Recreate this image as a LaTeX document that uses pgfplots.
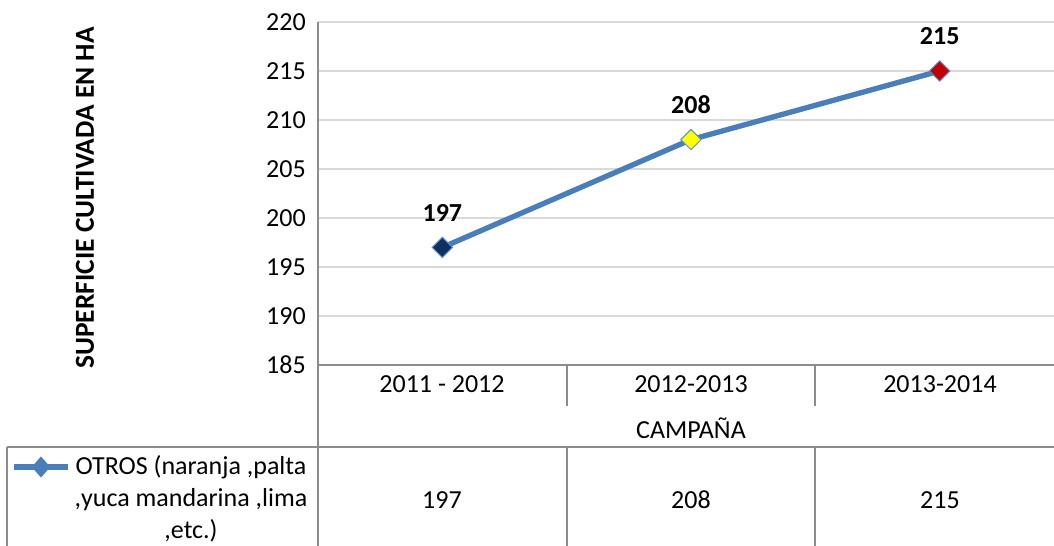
\documentclass[border=0pt]{standalone}
\usepackage{pgfplots}
\pgfplotsset{compat=1.18}
\usepackage{fontspec}
\setmainfont{Carlito}
\usetikzlibrary{shapes.geometric}
\definecolor{gridgray}{HTML}{D9D9D9}
\definecolor{axisgray}{HTML}{8C8C8C}
\definecolor{lineblue}{HTML}{4A7EBB}
\definecolor{edgeblue}{HTML}{5B8FD0}
\definecolor{navy}{HTML}{10305F}
\definecolor{yel}{HTML}{FFFF00}
\definecolor{redm}{HTML}{C00000}
\newcommand\fs{\fontsize{19.5}{24}\selectfont}
\pgfplotsset{/pgf/number format/assume math mode=true}
\begin{document}
\begin{tikzpicture}[x=0.75pt,y=-0.75pt]
\useasboundingbox (0,0) rectangle (1054,546);
\begin{scope}
\clip (0,0) rectangle (1054,546);
\begin{axis}[at={(238.5pt,-273.75pt)}, anchor=south west,
  width=559.5pt, height=257.25pt, scale only axis,
  xmin=-0.5, xmax=2.5, ymin=185, ymax=220,
  ytick={185,190,...,220}, xtick=\empty,
  ymajorgrids, major grid style={draw=gridgray, line width=1.5pt},
  axis line style={draw=none}, major tick length=0pt,
  yticklabel style={font=\fs, inner sep=0pt, xshift=-9pt},
  clip=false]
\addplot[color=lineblue, line width=4pt, mark=none,
  nodes near coords,
  nodes near coords style={font=\fs\bfseries, anchor=center, yshift=26pt, inner sep=0pt, text=black}]
  coordinates {(0,197) (1,208) (2,215)};
\addplot[only marks, mark=square*, mark size=5.4pt, mark options={rotate=45, draw=edgeblue, line width=0.75pt, fill=navy}]
  coordinates {(0,197)};
\addplot[only marks, mark=square*, mark size=5.4pt, mark options={rotate=45, draw=edgeblue, line width=0.75pt, fill=yel}]
  coordinates {(1,208)};
\addplot[only marks, mark=square*, mark size=5.4pt, mark options={rotate=45, draw=edgeblue, line width=0.75pt, fill=redm}]
  coordinates {(2,215)};
\end{axis}
% data table frame
\draw[axisgray, line width=1.5pt] (318,22) -- (318,546);
\draw[axisgray, line width=1.5pt] (318,365) -- (1054,365);
\draw[axisgray, line width=1.5pt] (7,447) -- (1054,447);
\draw[axisgray, line width=1.5pt] (7,447) -- (7,546);
\draw[axisgray, line width=1.5pt] (567,365) -- (567,406);
\draw[axisgray, line width=1.5pt] (815,365) -- (815,406);
\draw[axisgray, line width=1.5pt] (567,447) -- (567,546);
\draw[axisgray, line width=1.5pt] (815,447) -- (815,546);
% category labels
\node[font=\fs] at (442,384) {2011 - 2012};
\node[font=\fs] at (691,384) {2012-2013};
\node[font=\fs] at (940,384) {2013-2014};
\node[font=\fs] at (691,428) {CAMPAÑA};
\node[font=\fs] at (442,500) {197};
\node[font=\fs] at (691,500) {208};
\node[font=\fs] at (940,500) {215};
% legend key
\draw[lineblue, line width=4pt] (14,467) -- (68,467);
\node[diamond, fill=lineblue, inner sep=0pt, minimum width=14pt, minimum height=16pt] at (41,467) {};
\node[font=\fs, align=center] at (191,499) {OTROS (naranja ,palta\\,yuca mandarina ,lima\\,etc.)};
% y label
\node[rotate=90, font=\fontsize{20.6}{24}\selectfont\bfseries] at (85,198) {SUPERFICIE CULTIVADA EN HA};
\end{scope}
\end{tikzpicture}
\end{document}
